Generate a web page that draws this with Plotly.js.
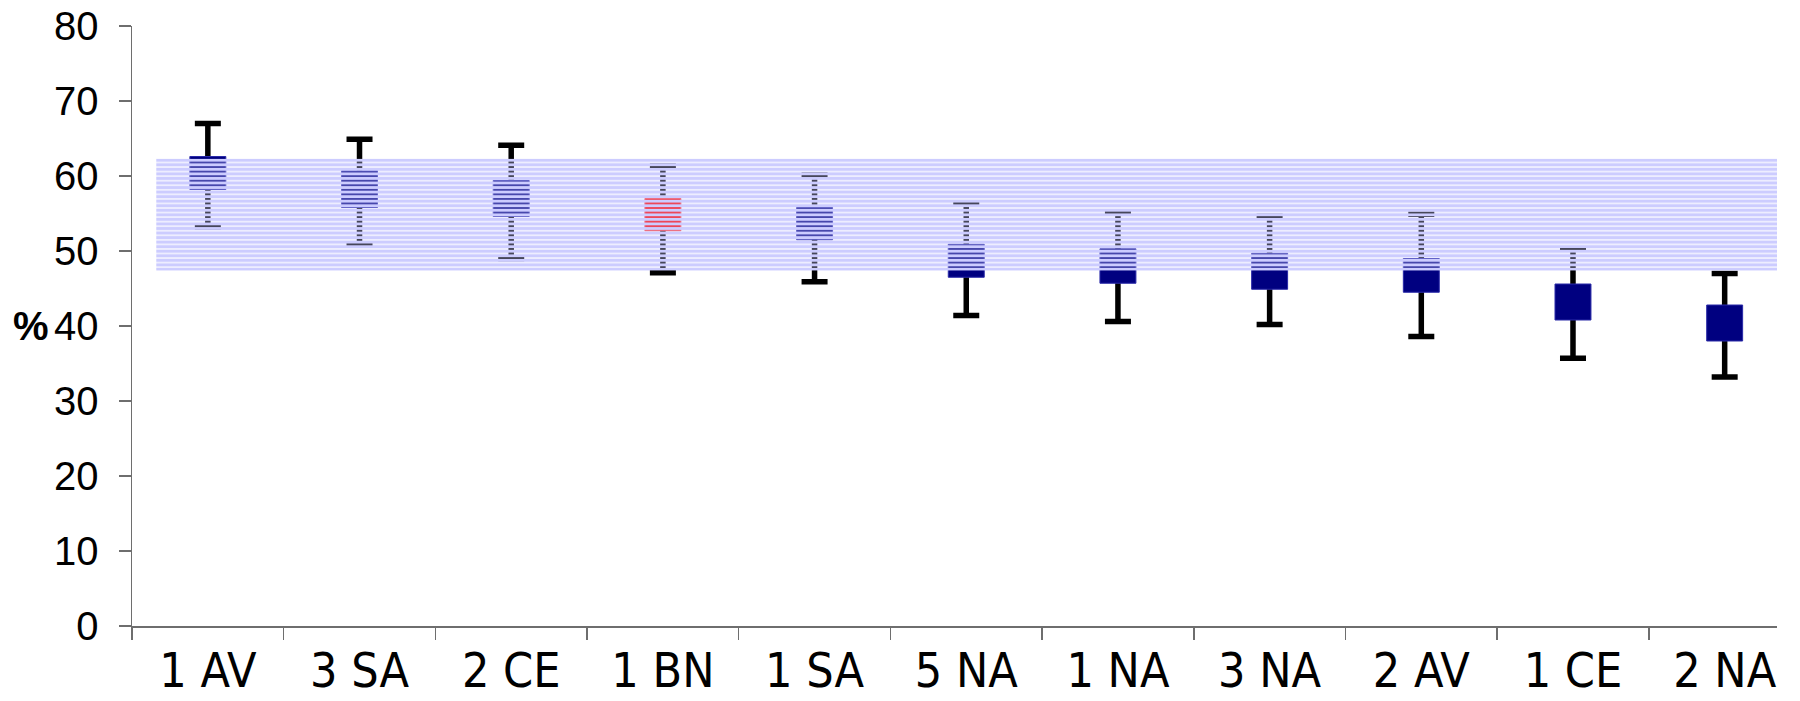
<!DOCTYPE html>
<html>
<head>
<meta charset="utf-8">
<script src="https://cdn.plot.ly/plotly-3.0.1.min.js"></script>
<style>
  html, body { margin: 0; padding: 0; background: #ffffff; }
  #chart { width: 1800px; height: 701px; }
</style>
</head>
<body>
<div id="chart"></div>
<script>
// ---- data ----
const categories = ['1 AV', '3 SA', '2 CE', '1 BN', '1 SA', '5 NA', '1 NA', '3 NA', '2 AV', '1 CE', '2 NA'];
const highValues = [67.0, 64.9, 64.1, 61.3, 60.1, 56.3, 55.1, 54.6, 54.9, 50.3, 47.0];
const boxTopValues = [62.6, 60.7, 59.4, 57.0, 55.8, 50.9, 50.3, 49.7, 49.0, 45.6, 42.8];
const boxBottomValues = [58.2, 55.8, 54.6, 52.7, 51.5, 46.5, 45.7, 44.9, 44.5, 40.8, 38.0];
const lowValues = [53.2, 50.9, 49.0, 47.1, 45.9, 41.4, 40.6, 40.2, 38.6, 35.7, 33.2];
const highlighted = ['1 BN'];
const bandLow = 47.4;
const bandHigh = 62.3;
const yTickValues = [0, 10, 20, 30, 40, 50, 60, 70, 80];

// ---- styling ----
const xRange = [-0.5, 10.345];
const bandX0 = -0.34, bandX1 = 10.345;
const navy = '#000080';
const red = '#ff0000';
const axisColor = '#6e6e6e';
const sansFont = 'Liberation Sans, Arial, sans-serif';
const narrowFont = 'Liberation Sans Narrow, Arial Narrow, DejaVu Sans Condensed, Liberation Sans, sans-serif';

const errorTrace = {
  type: 'scatter', mode: 'markers', x: categories, y: boxBottomValues,
  xaxis: 'x', yaxis: 'y',
  marker: { size: 1, color: 'rgba(0,0,0,0)' },
  error_y: {
    type: 'data', symmetric: false,
    array: highValues.map((h, i) => h - boxBottomValues[i]),
    arrayminus: boxBottomValues.map((b, i) => b - lowValues[i]),
    color: '#000000', thickness: 5.5, width: 13
  },
  hoverinfo: 'skip', showlegend: false
};

const boxTrace = {
  type: 'bar', x: categories,
  base: boxBottomValues,
  y: boxTopValues.map((t, i) => t - boxBottomValues[i]),
  xaxis: 'x2', yaxis: 'y2',
  width: 0.237,
  marker: {
    color: categories.map(c => highlighted.includes(c) ? red : navy),
    line: { color: categories.map(c => highlighted.includes(c) ? '#ff4040' : '#2a2aa8'), width: 1 }
  },
  hoverinfo: 'skip', showlegend: false
};

const bandTrace = {
  type: 'bar', x: [(bandX0 + bandX1) / 2],
  base: [bandLow], y: [bandHigh - bandLow],
  width: [bandX1 - bandX0],
  xaxis: 'x3', yaxis: 'y3',
  marker: {
    color: '#ccccff',
    line: { width: 0 },
    pattern: { shape: '-', fillmode: 'replace', fgcolor: '#ccccff', size: 4.55, solidity: 0.74 }
  },
  hoverinfo: 'skip', showlegend: false
};

const layout = {
  width: 1800, height: 701,
  margin: { l: 132, r: 23, t: 26, b: 75, pad: 0 },
  paper_bgcolor: '#ffffff', plot_bgcolor: 'rgba(0,0,0,0)',
  barmode: 'overlay',
  showlegend: false,
  font: { family: sansFont, color: '#000000' },
  xaxis: {
    type: 'category', categoryorder: 'array', categoryarray: categories,
    range: xRange, fixedrange: true,
    showgrid: false, zeroline: false,
    showline: true, linecolor: axisColor, linewidth: 1.5,
    ticks: 'outside', tickson: 'boundaries', ticklen: 12, tickwidth: 1.5, tickcolor: axisColor,
    tickfont: { family: narrowFont, size: 48, color: '#000000' },
    ticklabelstandoff: 2
  },
  yaxis: {
    range: [0, 80], fixedrange: true,
    tickmode: 'array', tickvals: yTickValues, ticktext: yTickValues.map(String),
    showgrid: false, zeroline: false,
    showline: true, linecolor: axisColor, linewidth: 1.5,
    ticks: 'outside', ticklen: 12, tickwidth: 1.5, tickcolor: axisColor,
    tickfont: { family: sansFont, size: 40, color: '#000000' },
    ticklabelstandoff: 12
  },
  xaxis2: {
    type: 'category', categoryorder: 'array', categoryarray: categories,
    range: xRange, overlaying: 'x', visible: false, fixedrange: true
  },
  yaxis2: { range: [0, 80], overlaying: 'y', visible: false, fixedrange: true },
  xaxis3: { type: 'linear', range: xRange, overlaying: 'x', visible: false, fixedrange: true },
  yaxis3: { range: [0, 80], overlaying: 'y', visible: false, fixedrange: true },
  annotations: [{
    text: '<b>%</b>', xref: 'paper', yref: 'y', x: -0.0615, y: 40,
    xanchor: 'center', yanchor: 'middle', showarrow: false,
    font: { family: sansFont, size: 40, color: '#000000' }
  }]
};

Plotly.newPlot('chart', [errorTrace, boxTrace, bandTrace], layout, { staticPlot: true, displayModeBar: false });
</script>
</body>
</html>
